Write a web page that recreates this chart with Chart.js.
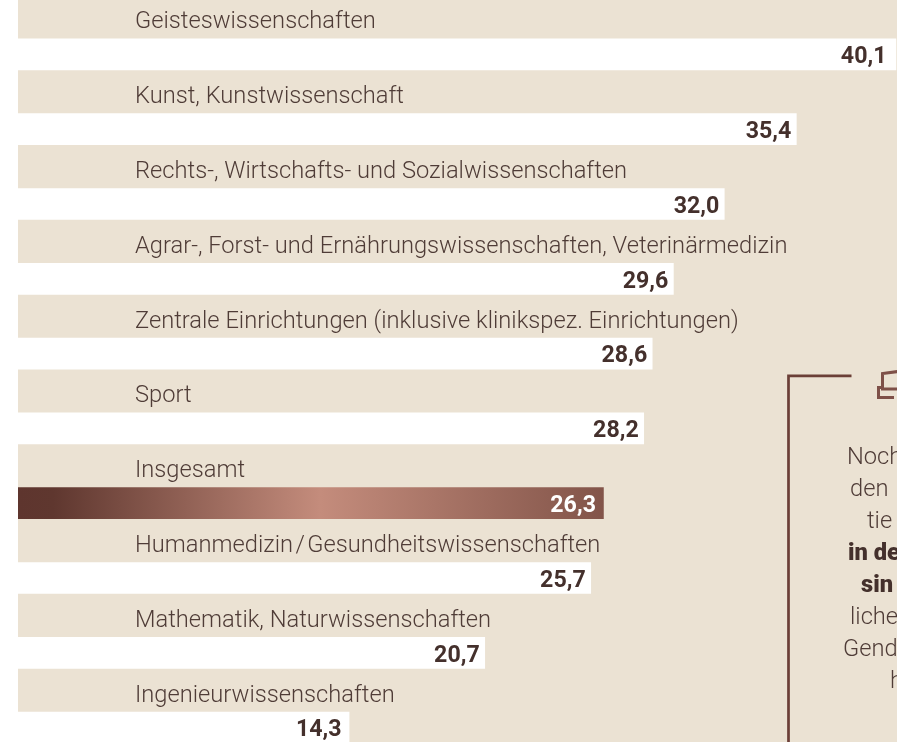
<!DOCTYPE html>
<html lang="de">
<head>
<meta charset="utf-8">
<title>Chart</title>
<style>
html,body{margin:0;padding:0;background:#fff;overflow:hidden;width:897px;height:742px}
#wrap{width:897px;height:742px;overflow:hidden}
canvas{display:block}
</style>
<script src="https://cdn.jsdelivr.net/npm/chart.js@4"></script>
</head>
<body>
<div id="wrap"><canvas id="c" width="897" height="765"></canvas></div>
<script>
const categories = [
  "Geisteswissenschaften",
  "Kunst, Kunstwissenschaft",
  "Rechts-, Wirtschafts- und Sozialwissenschaften",
  "Agrar-, Forst- und Ernährungswissenschaften, Veterinärmedizin",
  "Zentrale Einrichtungen (inklusive klinikspez. Einrichtungen)",
  "Sport",
  "Insgesamt",
  "Humanmedizin\u200a/\u200aGesundheitswissenschaften",
  "Mathematik, Naturwissenschaften",
  "Ingenieurwissenschaften"
];
const values = [40.1, 35.4, 32.0, 29.6, 28.6, 28.2, 26.3, 25.7, 20.7, 14.3];
const highlightCategory = "Insgesamt";
const panelLines = ["Noch", "den", "tie", "in de", "sin", "liche", "Gend", "h"];
const panelBold = [false, false, false, true, true, false, false, false];
const panelX = [847, 850, 867, 848, 861, 850, 843, 890];
const labelInset = [9.5, 5, 5, 5, 5, 5, 7.5, 5, 5, 7.5];

const BEIGE = "#ebe2d3";
const TEXT = "#4f3c37";
const DARK = "#44302c";

const ctx = document.getElementById("c").getContext("2d");
const grad = ctx.createLinearGradient(18, 0, 605, 0);
grad.addColorStop(0, "#5e352e");
grad.addColorStop(0.06, "#5f372f");
grad.addColorStop(0.515, "#c48c7c");
grad.addColorStop(1, "#825449");

const pagePlugin = {
  id: "page",
  beforeDraw(chart) {
    const c = chart.ctx;
    c.save();
    c.fillStyle = BEIGE;
    c.fillRect(18, 0, chart.width - 18, chart.height);
    c.restore();
  },
  afterDatasetsDraw(chart) {
    const c = chart.ctx;
    const meta = chart.getDatasetMeta(0);
    c.save();
    c.textAlign = "right";
    c.textBaseline = "middle";
    c.font = "700 23.2px Roboto";
    meta.data.forEach((bar, i) => {
      c.fillStyle = categories[i] === highlightCategory ? "#ffffff" : DARK;
      c.fillText(values[i].toFixed(1).replace(".", ","), bar.x - labelInset[i], bar.y + 3);
    });
    // info box frame
    c.strokeStyle = "#6b3f37";
    c.lineWidth = 2.7;
    c.beginPath();
    c.moveTo(851.5, 375.8);
    c.lineTo(788.5, 375.8);
    c.lineTo(788.5, 765);
    c.stroke();
    // icon
    c.strokeStyle = "#7e5048";
    c.lineWidth = 3;
    c.beginPath();
    c.moveTo(898, 371.5);
    c.lineTo(882.5, 373.5);
    c.lineTo(882.5, 389);
    c.lineTo(898, 389);
    c.moveTo(894, 397.5);
    c.lineTo(878.5, 397.5);
    c.lineTo(878.5, 387.5);
    c.lineTo(883, 387.5);
    c.stroke();
    // info box text, cut by the page edge
    c.textAlign = "left";
    panelLines.forEach((t, i) => {
      c.font = (panelBold[i] ? "900 " : "300 ") + "23.7px Roboto";
      c.fillStyle = panelBold[i] ? DARK : TEXT;
      c.fillText(t, panelX[i], 458 + i * 32);
    });
    c.restore();
  }
};

new Chart(ctx, {
  type: "bar",
  plugins: [pagePlugin],
  data: {
    labels: categories,
    datasets: [{
      data: values,
      base: -1.32,
      barThickness: 31,
      backgroundColor: categories.map(n => n === highlightCategory ? grad : "#ffffff"),
      borderWidth: 0
    }]
  },
  options: {
    indexAxis: "y",
    responsive: false,
    animation: false,
    layout: { padding: { left: 18, top: 17, right: 0, bottom: 0 } },
    plugins: { legend: { display: false }, tooltip: { enabled: false }, title: { display: false } },
    scales: {
      x: { display: false, min: -1.32, max: 40.15 },
      y: {
        offset: true,
        border: { display: false },
        grid: { display: false, drawTicks: false },
        afterFit(scale) {
          scale.width = 0;
          scale.paddingTop = 0;
          scale.paddingBottom = 0;
        },
        ticks: {
          mirror: true,
          padding: 117,
          labelOffset: -32,
          autoSkip: false,
          color: TEXT,
          font: { family: "Roboto", size: 23.7, weight: "300" }
        }
      }
    }
  }
});
</script>
</body>
</html>
